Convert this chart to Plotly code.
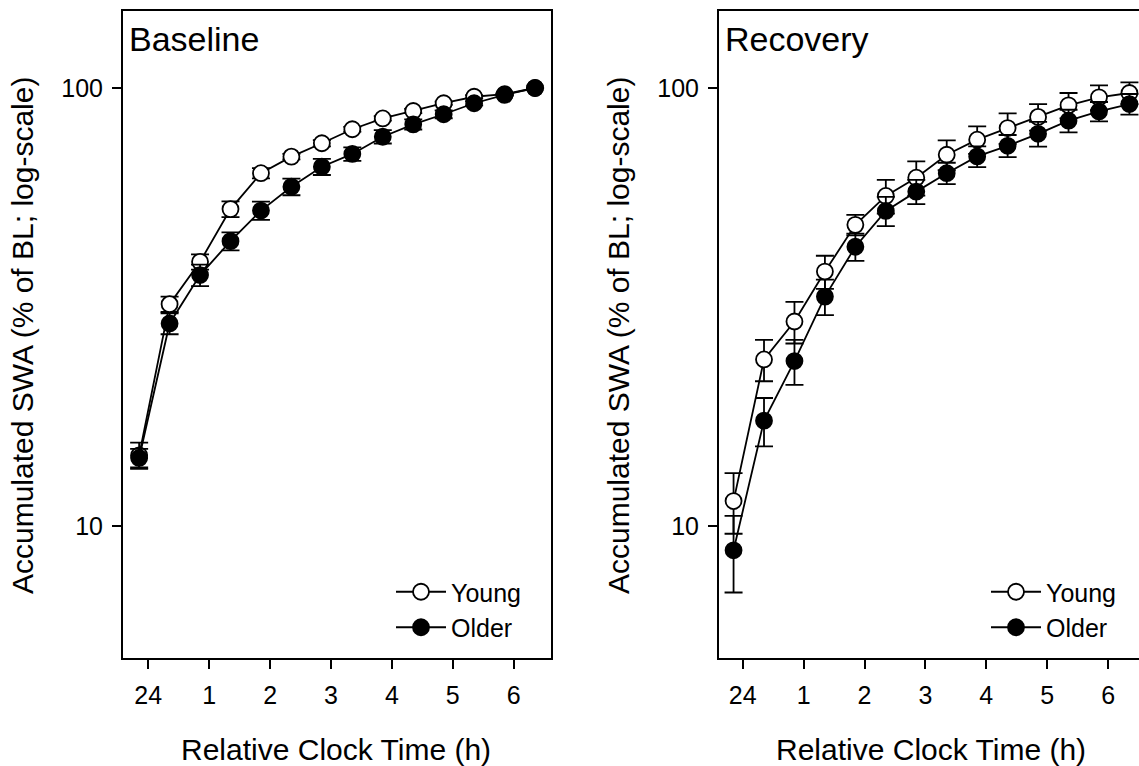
import plotly.graph_objects as go

# ---------------- data ----------------
times = [-0.15, 0.35, 0.85, 1.35, 1.85, 2.35, 2.85, 3.35, 3.85, 4.35, 4.85, 5.35, 5.85, 6.35]

bl_young = [14.5, 32.1, 40.1, 52.9, 63.9, 69.7, 74.8, 80.5, 85.2, 88.6, 92.3, 95.5, 96.8, 100.0]
bl_young_err = [1.0, 1.3, 1.6, 2.2, 1.7, 1.0, 1.2, 1.0, 1.0, 1.0, 0.8, 0.8, 0.5, 0.0]
bl_older = [14.3, 29.0, 37.4, 44.7, 52.5, 59.5, 66.1, 70.7, 77.4, 82.6, 87.1, 92.3, 96.4, 100.0]
bl_older_err = [0.7, 1.6, 2.1, 2.1, 2.5, 2.6, 2.8, 2.5, 2.7, 2.2, 1.8, 1.0, 0.5, 0.0]

rc_young = [11.4, 24.0, 29.3, 38.1, 48.7, 56.7, 62.4, 70.4, 76.2, 81.0, 85.9, 91.3, 95.2, 97.4]
rc_young_err = [1.8, 2.6, 3.2, 3.3, 2.6, 5.0, 5.6, 5.5, 5.5, 6.5, 6.0, 6.1, 6.2, 5.6]
rc_older = [8.8, 17.4, 23.8, 33.4, 43.4, 52.4, 58.0, 63.9, 69.8, 73.8, 78.6, 84.2, 88.4, 91.9]
rc_older_err = [1.75, 2.2, 2.8, 3.1, 3.1, 4.0, 3.7, 3.6, 3.8, 4.3, 5.1, 5.0, 4.5, 5.0]

tick_vals = [0, 1, 2, 3, 4, 5, 6]
tick_text = ["24", "1", "2", "3", "4", "5", "6"]
y_tick_vals = [10, 100]
y_tick_text = ["10", "100"]

panel_titles = ["Baseline", "Recovery"]
series_names = ["Young", "Older"]
x_title = "Relative Clock Time (h)"
y_title = "Accumulated SWA (% of BL; log-scale)"

# ---------------- layout helpers ----------------
W, H = 1139, 766
FONT = "Arial, 'Liberation Sans', Helvetica, sans-serif"


def px_x(p):
    return p / W


def px_y(p):
    return 1 - p / H


fig = go.Figure()

panels = [
    (bl_young, bl_young_err, bl_older, bl_older_err, "x", "y", "legend"),
    (rc_young, rc_young_err, rc_older, rc_older_err, "x2", "y2", "legend2"),
]

for (yv, ye, ov, oe, xa, ya, lg) in panels:
    fig.add_trace(go.Scatter(
        x=times, y=yv, name=series_names[0], mode="lines+markers",
        xaxis=xa, yaxis=ya, legend=lg,
        line=dict(color="black", width=1.8),
        marker=dict(symbol="circle", size=16, color="white",
                    line=dict(color="black", width=1.8)),
        error_y=dict(type="data", array=ye, visible=True, color="black",
                     thickness=1.8, width=9),
    ))
    fig.add_trace(go.Scatter(
        x=times, y=ov, name=series_names[1], mode="lines+markers",
        xaxis=xa, yaxis=ya, legend=lg,
        line=dict(color="black", width=1.8),
        marker=dict(symbol="circle", size=16, color="black",
                    line=dict(color="black", width=1.8)),
        error_y=dict(type="data", array=oe, visible=True, color="black",
                     thickness=1.8, width=9),
    ))

ydom = [px_y(658), px_y(11)]
yrange = [0.6986, 2.1758]

axis_common = dict(
    showline=True, linecolor="black", linewidth=2,
    ticks="outside", ticklen=9, tickwidth=2, tickcolor="black",
    showgrid=False, zeroline=False,
    tickfont=dict(family=FONT, size=25, color="black"),
)

fig.update_layout(
    width=W, height=H,
    margin=dict(l=0, r=0, t=0, b=0),
    paper_bgcolor="white", plot_bgcolor="white",
    font=dict(family=FONT, color="black"),
    showlegend=True,
    xaxis=dict(domain=[px_x(123), px_x(551)], range=[-0.415, 6.612],
               tickvals=tick_vals, ticktext=tick_text, mirror=True,
               anchor="y", ticklabelstandoff=5, **axis_common),
    yaxis=dict(domain=ydom, type="log", range=yrange,
               tickvals=y_tick_vals, ticktext=y_tick_text, mirror=True,
               anchor="x", ticklabelstandoff=4, **axis_common),
    xaxis2=dict(domain=[px_x(719), 1.0], range=[-0.389, 6.507],
                tickvals=tick_vals, ticktext=tick_text, mirror=True,
                anchor="y2", ticklabelstandoff=5, **axis_common),
    yaxis2=dict(domain=ydom, type="log", range=yrange,
                tickvals=y_tick_vals, ticktext=y_tick_text, mirror=False,
                anchor="x2", ticklabelstandoff=4, **axis_common),
    legend=dict(x=px_x(391), y=px_y(569), xanchor="left", yanchor="top",
                bgcolor="rgba(0,0,0,0)", itemwidth=50,
                font=dict(family=FONT, size=25, color="black"),
                tracegroupgap=0),
    legend2=dict(x=px_x(986), y=px_y(569), xanchor="left", yanchor="top",
                 bgcolor="rgba(0,0,0,0)", itemwidth=50,
                 font=dict(family=FONT, size=25, color="black"),
                 tracegroupgap=0),
)

annotations = []
# panel titles
for title, xl in zip(panel_titles, [123, 719]):
    annotations.append(dict(text=title, x=px_x(xl + 4), y=px_y(39),
                            xref="paper", yref="paper", xanchor="left",
                            yanchor="middle", showarrow=False,
                            font=dict(family=FONT, size=34, color="black")))
# x titles
for xc in [336, 931]:
    annotations.append(dict(text=x_title, x=px_x(xc), y=px_y(749),
                            xref="paper", yref="paper", xanchor="center",
                            yanchor="middle", showarrow=False,
                            font=dict(family=FONT, size=30, color="black")))
# y titles
for xc in [22, 618]:
    annotations.append(dict(text=y_title, x=px_x(xc), y=px_y(336),
                            xref="paper", yref="paper", xanchor="center",
                            yanchor="middle", showarrow=False, textangle=-90,
                            font=dict(family=FONT, size=30, color="black")))
fig.update_layout(annotations=annotations)

fig.write_html("out.html")
